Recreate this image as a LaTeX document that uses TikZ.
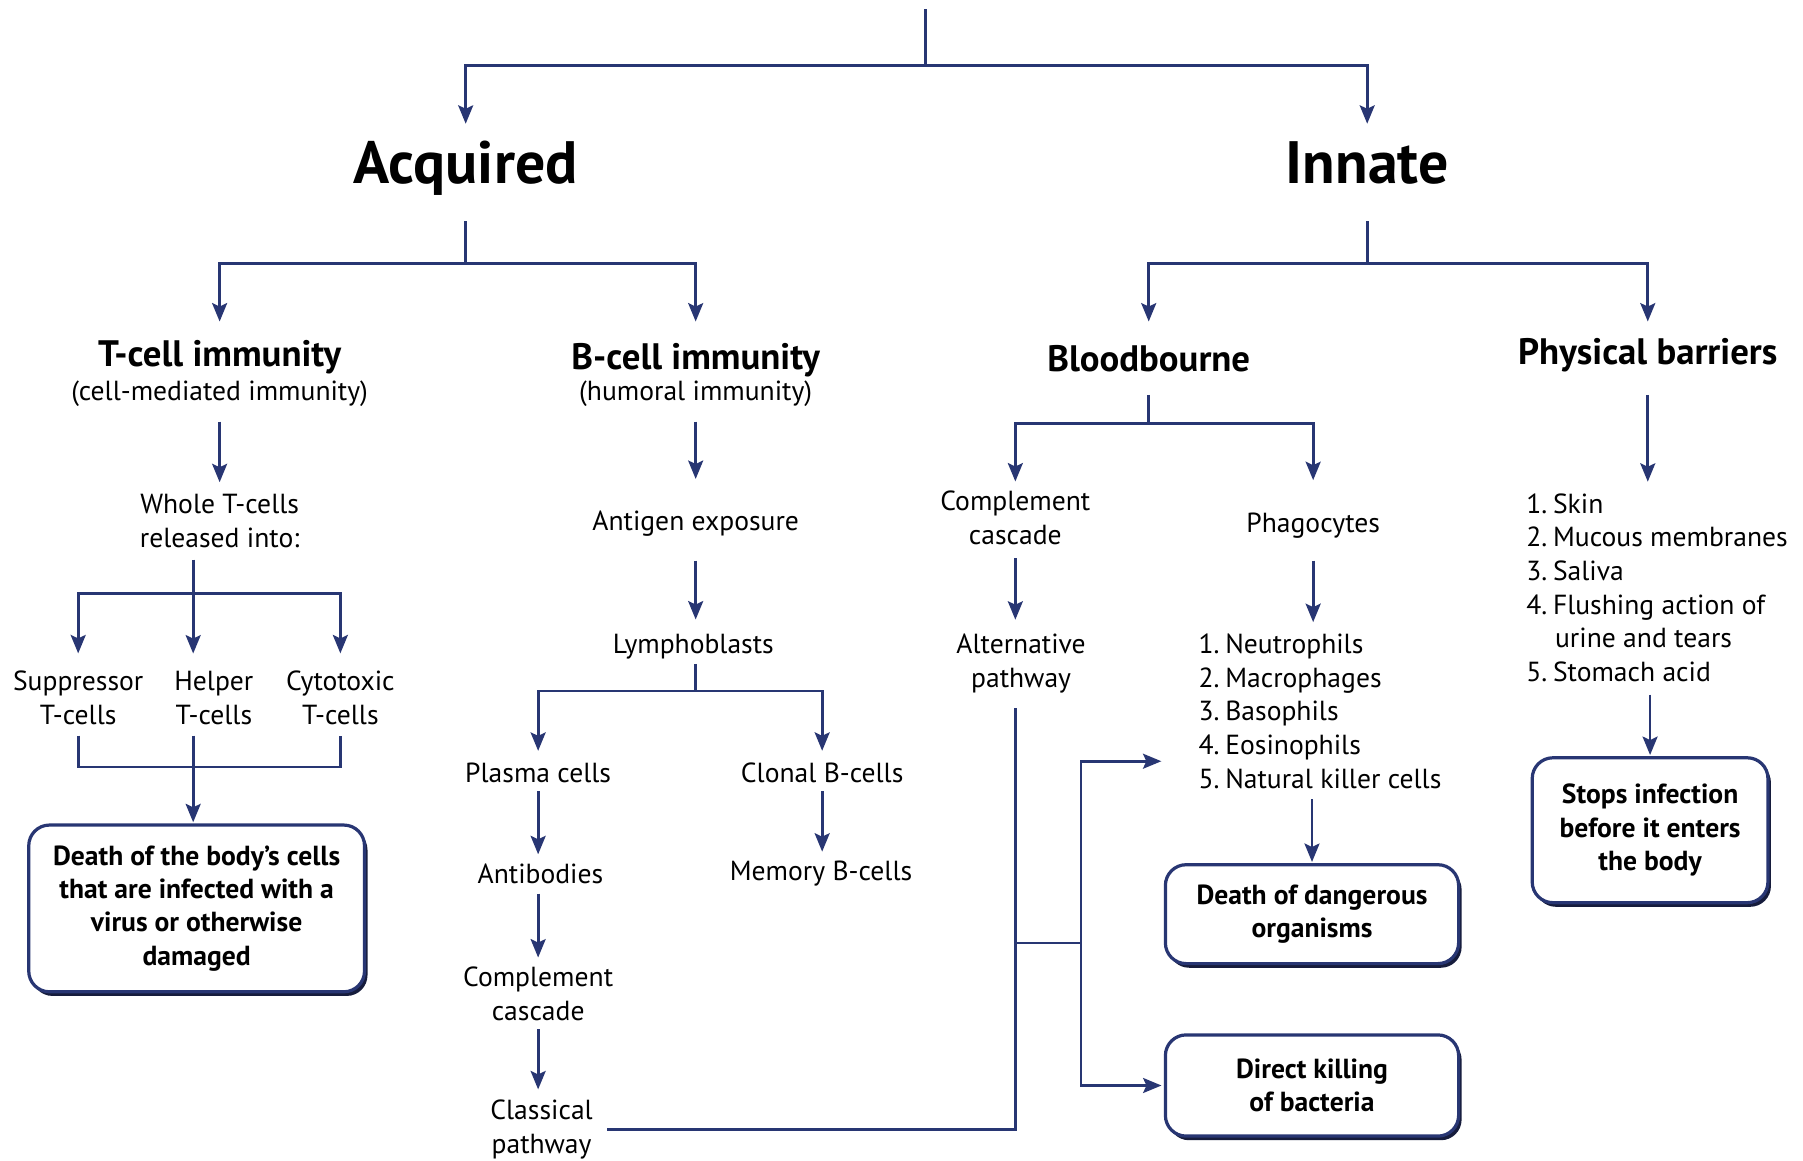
\documentclass[tikz,border=0pt]{standalone}
\usepackage{fontspec}
\setmainfont{PT Sans}
\usetikzlibrary{arrows.meta,shadows,calc}
\definecolor{navy}{RGB}{40,54,115}
\definecolor{shadowc}{RGB}{22,28,60}
\begin{document}
\begin{tikzpicture}[x=0.5pt,y=-0.5pt,
  line/.style={draw=navy, line width=1.2pt},
  arr/.style={line, -{Stealth[length=8pt,width=6.5pt,inset=1.5pt]}},
  txt/.style={font=\fontsize{12}{14.7}\selectfont, align=center, inner sep=2pt},
  head/.style={font=\fontsize{16}{19}\selectfont\bfseries, inner sep=2pt, text height=12pt, text depth=3.5pt},
  big/.style={font=\fontsize{26}{30}\selectfont\bfseries, inner sep=2pt, text height=19pt, text depth=6pt},
  lst/.style={font=\fontsize{12}{14.6}\selectfont, align=left, anchor=west, inner sep=2pt},
  box/.style={draw=navy, line width=1.4pt, fill=white, rounded corners=9pt, align=center,
    font=\fontsize{12}{14.5}\selectfont\bfseries,
    drop shadow={shadow xshift=1.3pt, shadow yshift=-1.8pt, fill=shadowc, opacity=1}}
]
\fill[white] (0,0) rectangle (1568,1009);
\useasboundingbox (0,0) rectangle (1568,1009);

% nodes
\node[big] (acq) at (405,147) {Acquired};
\node[big] (inn) at (1189,147) {Innate};
\node[head] (tcell) at (191,310.5) {T-cell immunity};
\node[txt] (tsub) at (191,342) {(cell-mediated immunity)};
\node[head] (bcell) at (605,312.5) {B-cell immunity};
\node[txt] (bsub) at (605,342) {(humoral immunity)};
\node[head] (blood) at (999,314.5) {Bloodbourne};
\node[head] (phys) at (1433,308.5) {Physical barriers};
\node[txt] (whole) at (191,453) {Whole T-cells\\released into:};
\node[txt] (supp) at (68,607) {Suppressor\\T-cells};
\node[txt] (helper) at (186,607) {Helper\\T-cells};
\node[txt] (cyto) at (296,607) {Cytotoxic\\T-cells};
\node[box, minimum width=146pt, minimum height=72.5pt] (box1) at (171,790)
  {Death of the body’s cells\\that are infected with a\\virus or otherwise\\damaged};
\node[txt] (antigen) at (605,455) {Antigen exposure};
\node[txt] (lympho) at (603,562) {Lymphoblasts};
\node[txt] (plasma) at (468,672) {Plasma cells};
\node[txt] (clonal) at (715,672) {Clonal B-cells};
\node[txt] (antib) at (470,760) {Antibodies};
\node[txt] (memory) at (714,760) {Memory B-cells};
\node[txt] (comp1) at (468,864.5) {Complement\\cascade};
\node[txt] (classical) at (471,982.5) {Classical\\pathway};
\node[txt] (comp2) at (883,450.5) {Complement\\cascade};
\node[txt] (alt) at (888,577) {Alternative\\pathway};
\node[txt] (phago) at (1142,457) {Phagocytes};
\node[lst] (plist) at (1038,618.5) {1.\hspace{2.5pt}Neutrophils\\2.\hspace{2.5pt}Macrophages\\3.\hspace{2.5pt}Basophils\\4.\hspace{2.5pt}Eosinophils\\5.\hspace{2.5pt}Natural killer cells};
\node[box, minimum width=127.5pt, minimum height=43pt] (box2) at (1141,795) {Death of dangerous\\organisms};
\node[box, minimum width=127.5pt, minimum height=44pt] (box3) at (1141,944) {Direct killing\\of bacteria};
\node[lst] (blist) at (1323,511) {1.\hspace{2.5pt}Skin\\2.\hspace{2.5pt}Mucous membranes\\3.\hspace{2.5pt}Saliva\\4.\hspace{2.5pt}Flushing action of\\\hspace*{12.5pt}urine and tears\\5.\hspace{2.5pt}Stomach acid};
\node[box, minimum width=102.5pt, minimum height=63pt] (box4) at (1435,722) {Stops infection\\before it enters\\the body};

% top
\coordinate (top) at (805,8);
\coordinate (topj) at (805,57);
\draw[line] (top) -- (topj);
\draw[arr, shorten >=5pt] (topj) -| (acq.north);
\draw[arr, shorten >=5pt] (topj) -| (inn.north);

% acquired
\coordinate (aj) at (405,229);
\draw[line, shorten <=8pt] (acq.south) -- (aj);
\draw[arr, shorten >=5.5pt] (aj) -| (tcell.north);
\draw[arr, shorten >=6.5pt] (aj) -| (bcell.north);

% innate
\coordinate (ij) at (1189,229);
\draw[line, shorten <=8pt] (inn.south) -- (ij);
\draw[arr, shorten >=7.5pt] (ij) -| (blood.north);
\draw[arr, shorten >=4.5pt] (ij) -| (phys.north);

% T-cell branch
\draw[arr, shorten <=4.5pt, shorten >=3pt] (tsub.south) -- (whole.north);
\coordinate (tj) at (168,516);
\draw[line, shorten <=3pt] (tj |- whole.south) -- (tj);
\draw[arr, shorten >=5.5pt] (tj) -| (supp.north);
\draw[arr, shorten >=5.5pt] (tj) -| (cyto.north);
\draw[arr, shorten >=5.5pt] (tj) -- (tj |- helper.north);
\coordinate (bj) at (168,667);
\draw[line, shorten <=2.5pt, shorten >=2.5pt] (supp.south) |- (bj) -| (cyto.south);
\draw[arr, shorten <=2.5pt, shorten >=0.5pt] (tj |- helper.south) -- (tj |- box1.north);

% B-cell branch
\draw[arr, shorten <=4.5pt, shorten >=11.5pt] (bsub.south) -- (antigen.north);
\draw[arr, shorten <=8.5pt, shorten >=4pt] (antigen.south) -- (antigen.south |- lympho.north);
\coordinate (lj) at (605,601);
\draw[line] (lj |- lympho.south) -- (lj);
\draw[arr, shorten >=3pt] (lj) -| (plasma.north);
\draw[arr, shorten >=3pt] (lj) -| (clonal.north);
\draw[arr, shorten <=1.5pt, shorten >=2pt] (plasma.south) -- (plasma.south |- antib.north);
\draw[arr, shorten <=1.5pt, shorten >=2pt] (clonal.south) -- (clonal.south |- memory.north);
\draw[arr, shorten <=2pt, shorten >=2pt] (plasma.south |- antib.south) -- (plasma.south |- comp1.north);
\draw[arr, shorten <=1.5pt, shorten >=2.5pt] (plasma.south |- comp1.south) -- (plasma.south |- classical.north);

% classical / alternative pathway to effects
\coordinate (vx) at (883,820);
\draw[line, shorten <=4pt, shorten >=4.5pt] (classical.east) -| (vx |- alt.south);
\coordinate (vx2) at (940,820);
\draw[line] (vx) -- (vx2);
\coordinate (plin) at (1010,662);
\draw[arr] (vx2) |- (plin);
\draw[arr, shorten >=1pt] (vx2) |- (box3.west);

% bloodbourne
\coordinate (bbj) at (999,368);
\draw[line, shorten <=4.5pt] (blood.south) -- (bbj);
\draw[arr, shorten >=2pt] (bbj) -| (comp2.north);
\draw[arr, shorten >=12pt] (bbj) -| (phago.north);
\draw[arr, shorten <=3.5pt, shorten >=4pt] (comp2.south) -- (comp2.south |- alt.north);
\draw[arr, shorten <=7.5pt, shorten >=3pt] (phago.south) -- (phago.south |- plist.north);
\draw[arr, shorten <=2.5pt, shorten >=0.5pt] (box2.north |- plist.south) -- (box2.north);

% physical barriers
\draw[arr, shorten <=7.5pt, shorten >=3pt] (phys.south) -- (phys.south |- blist.north);
\draw[arr, shorten <=3.5pt, shorten >=0.5pt] (box4.north |- blist.south) -- (box4.north);
\end{tikzpicture}
\end{document}
